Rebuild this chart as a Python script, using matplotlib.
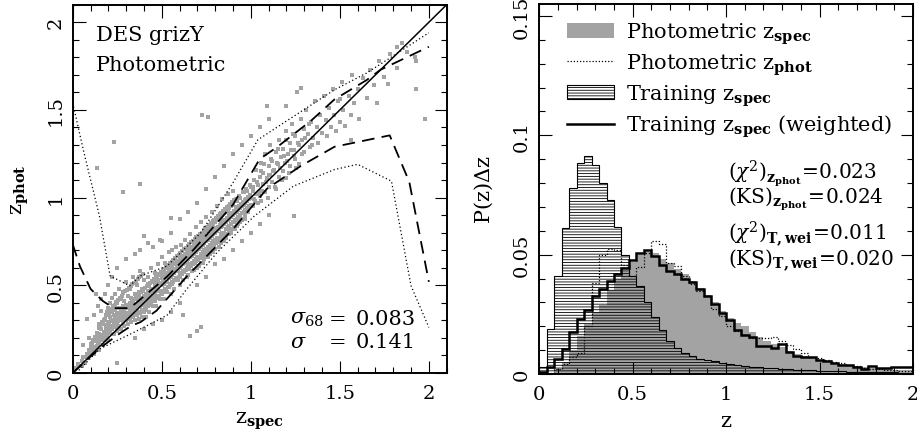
import matplotlib
matplotlib.use('Agg')
import numpy as np
import matplotlib.pyplot as plt
from matplotlib.ticker import MultipleLocator, FuncFormatter
from matplotlib.patches import Patch
from matplotlib.lines import Line2D

plt.rcParams['font.family'] = ['DejaVu Serif']
plt.rcParams['mathtext.fontset'] = 'dejavuserif'
plt.rcParams['hatch.linewidth'] = 0.6

# ---- left panel: z_phot vs z_spec scatter ----
core_pts = [
    (0.02,0.03),(0.03,0.05),(0.05,0.04),(0.05,0.07),(0.06,0.09),(0.07,0.06),(0.08,0.11),(0.08,0.09),(0.09,0.13),(0.10,0.10),
    (0.10,0.14),(0.11,0.12),(0.11,0.17),(0.12,0.15),(0.12,0.11),(0.13,0.18),(0.13,0.14),(0.14,0.20),(0.14,0.16),(0.15,0.13),
    (0.15,0.22),(0.15,0.18),(0.16,0.25),(0.16,0.19),(0.17,0.21),(0.17,0.16),(0.17,0.28),(0.18,0.23),(0.18,0.19),(0.18,0.31),
    (0.19,0.26),(0.19,0.21),(0.19,0.34),(0.20,0.24),(0.20,0.29),(0.20,0.19),(0.20,0.37),
    (0.21,0.27),(0.21,0.32),(0.21,0.23),(0.21,0.40),(0.22,0.30),(0.22,0.25),(0.22,0.35),(0.22,0.43),(0.23,0.28),(0.23,0.33),
    (0.23,0.22),(0.23,0.38),(0.24,0.31),(0.24,0.26),(0.24,0.36),(0.24,0.45),(0.25,0.29),(0.25,0.34),(0.25,0.24),(0.25,0.40),
    (0.26,0.32),(0.26,0.27),(0.26,0.37),(0.26,0.48),(0.27,0.30),(0.27,0.35),(0.27,0.25),(0.27,0.42),(0.28,0.33),(0.28,0.29),
    (0.28,0.38),(0.28,0.46),(0.29,0.31),(0.29,0.36),(0.29,0.27),(0.29,0.41),(0.30,0.34),(0.30,0.30),(0.30,0.39),(0.30,0.52),
    (0.31,0.32),(0.31,0.37),(0.31,0.28),(0.31,0.44),(0.32,0.35),(0.32,0.31),(0.32,0.40),(0.32,0.48),(0.33,0.33),(0.33,0.38),
    (0.33,0.29),(0.33,0.43),(0.34,0.36),(0.34,0.32),(0.34,0.41),(0.34,0.55),(0.35,0.34),(0.35,0.39),(0.35,0.30),(0.35,0.45),
    (0.36,0.37),(0.36,0.33),(0.36,0.42),(0.36,0.50),(0.37,0.35),(0.37,0.40),(0.37,0.31),(0.37,0.46),(0.38,0.38),(0.38,0.34),
    (0.38,0.43),(0.38,0.58),(0.39,0.36),(0.39,0.41),(0.39,0.32),(0.39,0.48),(0.40,0.39),(0.40,0.35),(0.40,0.44),(0.40,0.53),
    (0.41,0.40),(0.41,0.36),(0.41,0.45),(0.41,0.32),(0.42,0.42),(0.42,0.38),(0.42,0.47),(0.42,0.55),
    (0.43,0.41),(0.43,0.44),(0.43,0.35),(0.43,0.50),(0.44,0.43),(0.44,0.39),(0.44,0.48),(0.44,0.60),
    (0.45,0.44),(0.45,0.47),(0.45,0.38),(0.45,0.52),(0.46,0.45),(0.46,0.41),(0.46,0.50),(0.46,0.57),
    (0.47,0.47),(0.47,0.43),(0.47,0.52),(0.47,0.38),(0.48,0.48),(0.48,0.44),(0.48,0.53),(0.48,0.62),
    (0.49,0.47),(0.49,0.51),(0.49,0.42),(0.49,0.56),(0.50,0.50),(0.50,0.45),(0.50,0.54),(0.50,0.66),
    (0.51,0.51),(0.51,0.47),(0.51,0.56),(0.51,0.42),(0.52,0.52),(0.52,0.48),(0.52,0.57),(0.52,0.63),
    (0.53,0.52),(0.53,0.56),(0.53,0.46),(0.53,0.60),(0.54,0.54),(0.54,0.49),(0.54,0.58),(0.54,0.69),
    (0.55,0.55),(0.55,0.51),(0.55,0.60),(0.55,0.45),(0.56,0.56),(0.56,0.52),(0.56,0.61),(0.56,0.70),
    (0.57,0.57),(0.57,0.53),(0.57,0.62),(0.57,0.48),(0.58,0.58),(0.58,0.54),(0.58,0.64),(0.58,0.72),
    (0.59,0.58),(0.59,0.62),(0.59,0.53),(0.59,0.67),(0.60,0.60),(0.60,0.56),(0.60,0.65),(0.60,0.50),
    (0.61,0.61),(0.61,0.57),(0.61,0.66),(0.61,0.73),(0.62,0.62),(0.62,0.58),(0.62,0.67),(0.62,0.53),
    (0.63,0.63),(0.63,0.59),(0.63,0.68),(0.63,0.76),(0.64,0.63),(0.64,0.60),(0.64,0.69),(0.64,0.55),
    (0.65,0.65),(0.65,0.61),(0.65,0.70),(0.65,0.56),(0.66,0.66),(0.66,0.62),(0.66,0.71),(0.66,0.79),
    (0.67,0.67),(0.67,0.63),(0.67,0.72),(0.67,0.58),(0.68,0.68),(0.68,0.64),(0.68,0.73),(0.68,0.59),
    (0.69,0.69),(0.69,0.65),(0.69,0.74),(0.69,0.83),(0.70,0.70),(0.70,0.66),(0.70,0.75),(0.70,0.60),
    (0.71,0.71),(0.71,0.66),(0.71,0.76),(0.71,0.61),(0.72,0.72),(0.72,0.68),(0.72,0.77),(0.72,0.86),
    (0.73,0.73),(0.73,0.69),(0.73,0.78),(0.73,0.63),(0.74,0.74),(0.74,0.70),(0.74,0.80),(0.74,0.65),
    (0.75,0.75),(0.75,0.71),(0.75,0.81),(0.75,0.89),(0.76,0.76),(0.76,0.72),(0.76,0.82),(0.76,0.66),
    (0.77,0.77),(0.77,0.73),(0.77,0.83),(0.77,0.68),(0.78,0.78),(0.78,0.74),(0.78,0.84),(0.78,0.92),
    (0.79,0.79),(0.79,0.75),(0.79,0.85),(0.79,0.69),(0.80,0.80),(0.80,0.76),(0.80,0.86),(0.80,0.71),
    (0.81,0.81),(0.81,0.77),(0.81,0.87),(0.81,0.95),(0.82,0.82),(0.82,0.77),(0.82,0.88),(0.82,0.72),
    (0.83,0.83),(0.83,0.79),(0.83,0.89),(0.83,0.74),(0.84,0.84),(0.84,0.80),(0.84,0.90),(0.84,0.99),
    (0.85,0.85),(0.85,0.80),(0.85,0.91),(0.85,0.75),(0.86,0.86),(0.86,0.82),(0.86,0.92),(0.86,0.77),
    (0.87,0.87),(0.87,0.83),(0.87,0.93),(0.87,1.02),(0.88,0.88),(0.88,0.84),(0.88,0.94),(0.88,0.79),
    (0.89,0.89),(0.89,0.85),(0.89,0.95),(0.89,0.80),(0.90,0.90),(0.90,0.86),(0.90,0.96),(0.90,1.04),
    (0.91,0.91),(0.91,0.87),(0.91,0.82),(0.92,0.92),(0.92,0.88),(0.92,0.98),(0.92,0.84),
    (0.93,0.93),(0.93,0.89),(0.93,0.85),(0.94,0.94),(0.94,0.90),(0.94,1.00),(0.94,0.86),
    (0.95,0.95),(0.95,0.91),(0.95,0.87),(0.96,0.96),(0.96,0.92),(0.96,1.03),(0.97,0.97),(0.97,0.93),(0.97,0.88),
    (0.98,0.98),(0.98,0.94),(0.98,1.04),(0.99,0.99),(0.99,0.95),(1.00,1.00),(1.00,0.96),(1.00,1.06),
    (1.01,1.04),(1.01,0.95),(1.02,1.10),(1.02,0.99),(1.03,1.02),(1.03,1.16),(1.04,0.97),(1.04,1.07),(1.05,1.12),(1.05,1.01),
    (1.06,1.20),(1.06,0.98),(1.07,1.08),(1.07,1.14),(1.08,1.03),(1.08,1.25),(1.09,1.11),(1.10,1.06),(1.10,1.18),(1.11,1.13),
    (1.11,1.30),(1.12,1.09),(1.12,1.21),(1.13,1.16),(1.14,1.05),(1.14,1.26),(1.15,1.19),(1.16,1.12),(1.16,1.33),(1.17,1.23),
    (1.18,1.15),(1.18,1.28),(1.19,1.20),(1.20,1.38),(1.20,1.11),(1.21,1.25),(1.22,1.31),(1.22,1.18),(1.23,1.42),(1.24,1.27),
    (1.25,1.22),(1.25,1.35),(1.26,1.60),(1.27,1.30),(1.27,1.19),(1.28,1.45),(1.29,1.33),(1.30,1.26),(1.30,1.39),(1.31,1.50),
    (1.32,1.36),(1.33,1.29),(1.34,1.43),(1.35,1.34),(1.36,1.55),(1.37,1.40),(1.38,1.31),(1.39,1.47),(1.40,1.37),(1.41,1.58),
    (1.42,1.44),(1.43,1.35),(1.44,1.51),(1.45,1.40),(1.46,1.62),(1.47,1.47),(1.48,1.38),(1.49,1.55),(1.50,1.43),(1.51,1.66),
    (1.52,1.50),(1.53,1.41),(1.55,1.58),(1.56,1.47),(1.57,1.70),(1.58,1.54),(1.60,1.62),(1.61,1.45),(1.63,1.68),(1.65,1.57),
    (1.67,1.73),(1.69,1.64),(1.72,1.78),(1.75,1.69),(1.78,1.82),(1.82,1.74),(1.85,1.88),(1.88,1.83),(1.93,1.78),
]
core_pts_fill = [
    (0.105,0.125),(0.105,0.165),(0.115,0.135),(0.115,0.19),(0.125,0.145),(0.125,0.205),(0.135,0.155),(0.135,0.23),(0.145,0.175),(0.145,0.255),
    (0.155,0.195),(0.155,0.27),(0.165,0.215),(0.165,0.29),(0.175,0.235),(0.175,0.305),(0.185,0.255),(0.185,0.33),(0.195,0.275),(0.195,0.35),
    (0.195,0.225),(0.205,0.285),(0.205,0.345),(0.205,0.235),(0.215,0.295),(0.215,0.365),(0.215,0.255),(0.225,0.305),(0.225,0.375),(0.225,0.265),
    (0.235,0.315),(0.235,0.39),(0.235,0.275),(0.245,0.325),(0.245,0.405),(0.245,0.285),(0.255,0.335),(0.255,0.415),(0.255,0.295),
    (0.265,0.345),(0.265,0.43),(0.265,0.305),(0.275,0.355),(0.275,0.44),(0.275,0.315),(0.285,0.365),(0.285,0.455),(0.285,0.32),
    (0.295,0.375),(0.295,0.465),(0.295,0.33),(0.305,0.385),(0.305,0.475),(0.305,0.335),(0.315,0.39),(0.315,0.485),(0.315,0.345),
    (0.325,0.40),(0.325,0.495),(0.325,0.355),(0.335,0.41),(0.335,0.505),(0.335,0.36),(0.345,0.42),(0.345,0.515),(0.345,0.37),
    (0.355,0.43),(0.355,0.525),(0.355,0.38),(0.365,0.44),(0.365,0.535),(0.365,0.385),(0.375,0.45),(0.375,0.545),(0.375,0.395),
    (0.385,0.46),(0.385,0.555),(0.385,0.40),(0.395,0.47),(0.395,0.565),(0.395,0.41),
    (0.405,0.425),(0.405,0.485),(0.405,0.375),(0.415,0.435),(0.415,0.495),(0.415,0.385),(0.425,0.445),(0.425,0.505),(0.425,0.39),
    (0.435,0.455),(0.435,0.515),(0.435,0.40),(0.445,0.465),(0.445,0.525),(0.445,0.41),(0.455,0.475),(0.455,0.535),(0.455,0.415),
    (0.465,0.485),(0.465,0.545),(0.465,0.425),(0.475,0.495),(0.475,0.555),(0.475,0.435),(0.485,0.505),(0.485,0.565),(0.485,0.44),
    (0.495,0.515),(0.495,0.575),(0.495,0.45),(0.505,0.525),(0.505,0.585),(0.505,0.46),(0.515,0.535),(0.515,0.595),(0.515,0.47),
    (0.525,0.545),(0.525,0.605),(0.525,0.48),(0.535,0.555),(0.535,0.615),(0.535,0.49),(0.545,0.565),(0.545,0.625),(0.545,0.50),
    (0.555,0.575),(0.555,0.635),(0.555,0.51),(0.565,0.585),(0.565,0.645),(0.565,0.52),(0.575,0.595),(0.575,0.655),(0.575,0.53),
    (0.585,0.605),(0.585,0.665),(0.585,0.54),(0.595,0.615),(0.595,0.675),(0.595,0.55),(0.605,0.625),(0.605,0.685),(0.605,0.555),
    (0.615,0.635),(0.615,0.695),(0.615,0.565),(0.625,0.645),(0.625,0.705),(0.625,0.575),(0.635,0.655),(0.635,0.715),(0.635,0.585),
    (0.645,0.665),(0.645,0.725),(0.645,0.595),(0.655,0.675),(0.655,0.735),(0.655,0.60),(0.665,0.685),(0.665,0.745),(0.665,0.61),
    (0.675,0.695),(0.675,0.755),(0.675,0.62),(0.685,0.705),(0.685,0.765),(0.685,0.63),(0.695,0.715),(0.695,0.775),(0.695,0.64),
    (0.705,0.725),(0.705,0.78),(0.705,0.645),(0.715,0.735),(0.715,0.79),(0.715,0.655),(0.725,0.745),(0.725,0.80),(0.725,0.665),
    (0.735,0.755),(0.735,0.815),(0.735,0.675),(0.745,0.765),(0.745,0.825),(0.745,0.685),(0.755,0.775),(0.755,0.835),(0.755,0.69),
    (0.765,0.785),(0.765,0.845),(0.765,0.70),(0.775,0.795),(0.775,0.855),(0.775,0.71),(0.785,0.805),(0.785,0.865),(0.785,0.72),
    (0.795,0.815),(0.795,0.875),(0.795,0.73),(0.805,0.825),(0.805,0.885),(0.805,0.74),(0.815,0.835),(0.815,0.895),(0.815,0.745),
    (0.825,0.845),(0.825,0.905),(0.825,0.755),(0.835,0.855),(0.835,0.915),(0.835,0.765),(0.845,0.865),(0.845,0.925),(0.845,0.775),
    (0.855,0.875),(0.855,0.935),(0.855,0.785),(0.865,0.885),(0.865,0.945),(0.865,0.795),(0.875,0.895),(0.875,0.955),(0.875,0.80),
    (0.885,0.905),(0.885,0.965),(0.885,0.81),(0.895,0.915),(0.895,0.975),(0.895,0.82),(0.905,0.925),(0.905,0.985),(0.905,0.83),
    (0.915,0.935),(0.915,0.995),(0.925,0.945),(0.925,0.86),(0.935,0.955),(0.935,1.01),(0.945,0.965),(0.945,0.88),(0.955,0.975),(0.955,1.03),
    (0.965,0.985),(0.965,0.90),(0.975,0.995),(0.975,1.05),(0.985,1.005),(0.985,0.92),(0.995,1.015),(0.995,1.07),
    (1.015,1.06),(1.025,0.98),(1.035,1.09),(1.045,1.03),(1.055,1.15),(1.065,1.04),(1.075,1.19),(1.085,1.09),(1.095,1.00),(1.105,1.13),
    (1.115,1.22),(1.125,1.15),(1.135,1.06),(1.145,1.20),(1.155,1.28),(1.165,1.17),(1.175,1.10),(1.185,1.24),(1.195,1.33),(1.205,1.21),
    (1.215,1.14),(1.225,1.27),(1.235,1.36),(1.245,1.24),(1.255,1.17),(1.265,1.31),(1.285,1.25),(1.305,1.34),(1.325,1.42),(1.345,1.30),
]
outlier_pts = [
    (0.135,1.17),(0.23,1.32),(0.38,1.075),(0.40,0.78),(0.285,1.03),(0.55,0.886),(0.726,1.47),(0.76,1.46),
    (0.49,0.76),(0.16,0.355),(0.08,0.307),(0.25,0.06),(0.66,0.21),(0.70,0.24),(0.72,0.26),(1.24,0.895),
    (1.09,1.52),(1.28,1.625),(1.50,1.56),(0.15,0.28),(0.12,0.33),(0.14,0.38),(0.16,0.42),(0.18,0.45),
    (0.20,0.50),(0.13,0.45),(0.22,0.55),(0.25,0.60),(0.30,0.65),(0.35,0.68),(0.38,0.70),(0.42,0.74),
    (0.45,0.72),(0.35,0.20),(0.40,0.25),(0.45,0.28),(0.50,0.30),(0.55,0.35),(0.60,0.40),(0.62,0.33),
    (0.70,0.50),(0.75,0.55),(0.80,0.62),(0.85,0.65),(0.90,0.70),(0.95,0.75),(1.00,0.80),(1.05,0.85),
    (1.10,0.90),(0.50,0.75),(0.55,0.80),(0.60,0.88),(0.65,0.92),(0.70,0.97),(0.75,1.05),(0.80,1.12),
    (0.85,1.18),(0.90,1.25),(0.95,1.30),(1.00,1.35),(1.05,1.40),(1.10,1.45),(1.20,1.52),(1.93,1.62),
    (1.98,1.45),(1.92,1.80),(1.82,1.86),(1.77,1.65),(1.71,1.54),(1.56,1.33),(0.09,0.20),(0.06,0.16),
]

# percentile curves
up68_x = [0.0, 0.04, 0.10, 0.17, 0.23, 0.32, 0.38, 0.53, 0.68, 0.90, 1.05, 1.15, 1.34, 1.47, 1.65, 1.73, 2.0]
up68_y = [0.734, 0.61, 0.48, 0.41, 0.37, 0.37, 0.42, 0.55, 0.705, 0.96, 1.22, 1.29, 1.44, 1.56, 1.67, 1.73, 1.86]
lo68_x = [0.0, 0.15, 0.27, 0.33, 0.38, 0.47, 0.64, 0.90, 1.09, 1.28, 1.47, 1.78, 1.89, 2.0]
lo68_y = [0.0, 0.14, 0.23, 0.27, 0.29, 0.355, 0.55, 0.82, 1.05, 1.18, 1.29, 1.355, 1.09, 0.52]
up95_x = [0.0, 0.06, 0.15, 0.21, 0.32, 0.38, 0.53, 0.72, 0.90, 1.04, 1.19, 1.47, 1.65, 2.0]
up95_y = [1.54, 1.27, 0.895, 0.554, 0.497, 0.554, 0.61, 0.80, 1.085, 1.33, 1.43, 1.615, 1.71, 1.94]
lo95_x = [0.02, 0.15, 0.34, 0.53, 0.64, 0.81, 1.02, 1.24, 1.47, 1.60, 1.79, 1.90, 2.0]
lo95_y = [0.0, 0.137, 0.23, 0.33, 0.478, 0.687, 0.895, 1.066, 1.16, 1.19, 1.094, 0.497, 0.26]

# ---- right panel: histograms, bins of 0.04 from 0 to 2 ----
bin_edges = np.arange(51) * 0.04
phot_zspec = [0.0, 0.0005, 0.002, 0.005, 0.010, 0.016, 0.021, 0.026, 0.029, 0.035,
              0.040, 0.043, 0.047, 0.050, 0.051, 0.0505, 0.048, 0.0465, 0.044, 0.042,
              0.039, 0.036, 0.033, 0.030, 0.0265, 0.0235, 0.0215, 0.020, 0.0175, 0.0155,
              0.014, 0.0125, 0.0115, 0.0095, 0.0085, 0.0075, 0.0068, 0.006, 0.0055, 0.0048,
              0.0042, 0.0037, 0.0032, 0.0028, 0.0025, 0.0022, 0.002, 0.0018, 0.0016, 0.0015]
phot_zphot = [0.0, 0.0005, 0.002, 0.0042, 0.007, 0.009, 0.020, 0.038, 0.050, 0.0524,
              0.052, 0.0458, 0.041, 0.045, 0.0507, 0.0558, 0.0546, 0.0465, 0.0452, 0.041,
              0.0375, 0.0347, 0.0326, 0.0271, 0.0243, 0.020, 0.018, 0.0162, 0.015, 0.0149,
              0.0149, 0.0154, 0.0139, 0.0121, 0.0104, 0.0088, 0.0072, 0.0066, 0.0058, 0.005,
              0.0044, 0.0038, 0.0032, 0.0027, 0.0023, 0.002, 0.0017, 0.0015, 0.0013, 0.0012]
train_zspec = [0.003, 0.019, 0.041, 0.061, 0.078, 0.0885, 0.0915, 0.0875, 0.080, 0.073,
               0.0615, 0.050, 0.041, 0.037, 0.030, 0.024, 0.0185, 0.014, 0.0108, 0.009,
               0.0075, 0.0064, 0.0058, 0.0053, 0.0047, 0.0042, 0.0038, 0.0034, 0.0031, 0.0029,
               0.0027, 0.0025, 0.0022, 0.002, 0.0018, 0.0017, 0.0015, 0.0014, 0.0013, 0.0012,
               0.0011, 0.001, 0.0009, 0.0009, 0.0008, 0.0008, 0.0007, 0.0007, 0.0006, 0.0006]
train_weighted = [0.001, 0.0028, 0.0063, 0.0104, 0.0176, 0.0229, 0.027, 0.0326, 0.0357, 0.039,
                  0.0417, 0.0444, 0.0476, 0.0505, 0.0518, 0.0493, 0.0458, 0.0432, 0.0417, 0.040,
                  0.0385, 0.0354, 0.0326, 0.0292, 0.0257, 0.0225, 0.0185, 0.0163, 0.0153, 0.0118,
                  0.0118, 0.0107, 0.0125, 0.0093, 0.0076, 0.007, 0.007, 0.006, 0.0055, 0.0046,
                  0.0037, 0.0037, 0.0028, 0.0021, 0.0035, 0.0025, 0.0025, 0.0028, 0.0028, 0.003]

GRAY = '#a3a3a3'


def style_axes(ax, ymajor, yminor):
    ax.xaxis.set_major_locator(MultipleLocator(0.5))
    ax.xaxis.set_minor_locator(MultipleLocator(0.1))
    ax.yaxis.set_major_locator(MultipleLocator(ymajor))
    ax.yaxis.set_minor_locator(MultipleLocator(yminor))
    fmt = FuncFormatter(lambda v, p: '%g' % round(v, 4))
    ax.xaxis.set_major_formatter(fmt)
    ax.yaxis.set_major_formatter(fmt)
    ax.tick_params(which='both', direction='in', top=True, right=True, width=0.8, labelsize=14)
    ax.tick_params(which='major', length=9)
    ax.tick_params(which='minor', length=4.5)
    ax.tick_params(axis='x', pad=8)
    ax.tick_params(axis='y', pad=6, labelrotation=90)
    for t in ax.get_yticklabels():
        t.set_va('center')
    for s in ax.spines.values():
        s.set_linewidth(1.4)


fig = plt.figure(figsize=(9.17, 4.39), dpi=100)

# left panel
ax1 = fig.add_axes([0.0793, 0.148, 0.4078, 0.839])
pts = core_pts + core_pts_fill + outlier_pts
ax1.plot([p[0] for p in pts], [p[1] for p in pts], 's', color=GRAY, ms=2.2, mew=0, zorder=1)
ax1.plot([0, 2.1], [0, 2.1], '-', color='k', lw=1.1, zorder=3)
ax1.plot(up68_x, up68_y, color='k', lw=1.3, ls=(0, (7, 4)), zorder=3)
ax1.plot(lo68_x, lo68_y, color='k', lw=1.3, ls=(0, (7, 4)), zorder=3)
ax1.plot(up95_x, up95_y, color='k', lw=0.9, ls=(0, (1, 2)), zorder=3)
ax1.plot(lo95_x, lo95_y, color='k', lw=0.9, ls=(0, (1, 2)), zorder=3)
ax1.set_xlim(0, 2.1)
ax1.set_ylim(0, 2.1)
style_axes(ax1, 0.5, 0.1)
ax1.text(0.13, 1.93, 'DES grizY', fontsize=15, va='center')
ax1.text(0.13, 1.76, 'Photometric', fontsize=15, va='center')
ax1.text(1.22, 0.313, r'$\sigma_{68}$', fontsize=15, va='center')
ax1.text(1.49, 0.313, '=', fontsize=15, va='center', ha='center')
ax1.text(1.59, 0.313, '0.083', fontsize=15, va='center')
ax1.text(1.22, 0.182, r'$\sigma$', fontsize=15, va='center')
ax1.text(1.49, 0.182, '=', fontsize=15, va='center', ha='center')
ax1.text(1.59, 0.182, '0.141', fontsize=15, va='center')
ax1.set_xlabel(r'z$_{\mathbf{spec}}$', fontsize=15)
ax1.set_ylabel(r'z$_{\mathbf{phot}}$', fontsize=15)
ax1.xaxis.set_label_coords(0.5, -0.1)
ax1.yaxis.set_label_coords(-0.112, 0.5)

# right panel
ax2 = fig.add_axes([0.5881, 0.1458, 0.4075, 0.8428])
ax2.stairs(phot_zspec, bin_edges, fill=True, color=GRAY, lw=0, zorder=1)
ax2.stairs(train_zspec, bin_edges, fill=True, facecolor='none', edgecolor='k',
           hatch='------', lw=0.8, zorder=2)
ax2.stairs(phot_zphot, bin_edges, color='k', lw=0.9, ls=(0, (1, 1.5)), zorder=3)
ax2.stairs(train_weighted, bin_edges, color='k', lw=1.8, zorder=4)
ax2.set_xlim(0, 2)
ax2.set_ylim(0, 0.155)
style_axes(ax2, 0.05, 0.01)
ax2.set_xlabel('z', fontsize=15)
ax2.set_ylabel(r'P(z)$\Delta$z', fontsize=15)
ax2.xaxis.set_label_coords(0.5, -0.1)
ax2.yaxis.set_label_coords(-0.118, 0.5)

handles = [
    Patch(facecolor=GRAY, edgecolor='none'),
    Line2D([], [], color='k', lw=0.9, ls=(0, (1, 1.5))),
    Patch(facecolor='none', edgecolor='k', hatch='------', lw=0.8),
    Line2D([], [], color='k', lw=1.8),
]
labels = [
    r'Photometric z$_{\mathbf{spec}}$',
    r'Photometric z$_{\mathbf{phot}}$',
    r'Training z$_{\mathbf{spec}}$',
    r'Training z$_{\mathbf{spec}}$ (weighted)',
]
ax2.legend(handles, labels, loc='upper left', bbox_to_anchor=(0.074, 0.955), frameon=False,
           fontsize=15, handlelength=2.25, handletextpad=0.6, labelspacing=0.25,
           borderpad=0, borderaxespad=0)

ax2.text(1.008, 0.0845, r'$(\chi^2)_{\mathbf{z_{phot}}}\!=\!0.023$', fontsize=14.5, va='center')
ax2.text(1.008, 0.0735, r'$(\mathrm{KS})_{\mathbf{z_{phot}}}\!=\!0.024$', fontsize=14.5, va='center')
ax2.text(1.008, 0.0588, r'$(\chi^2)_{\mathbf{T,wei}}\!=\!0.011$', fontsize=14.5, va='center')
ax2.text(1.008, 0.0478, r'$(\mathrm{KS})_{\mathbf{T,wei}}\!=\!0.020$', fontsize=14.5, va='center')

fig.savefig('out.png', dpi=100)
